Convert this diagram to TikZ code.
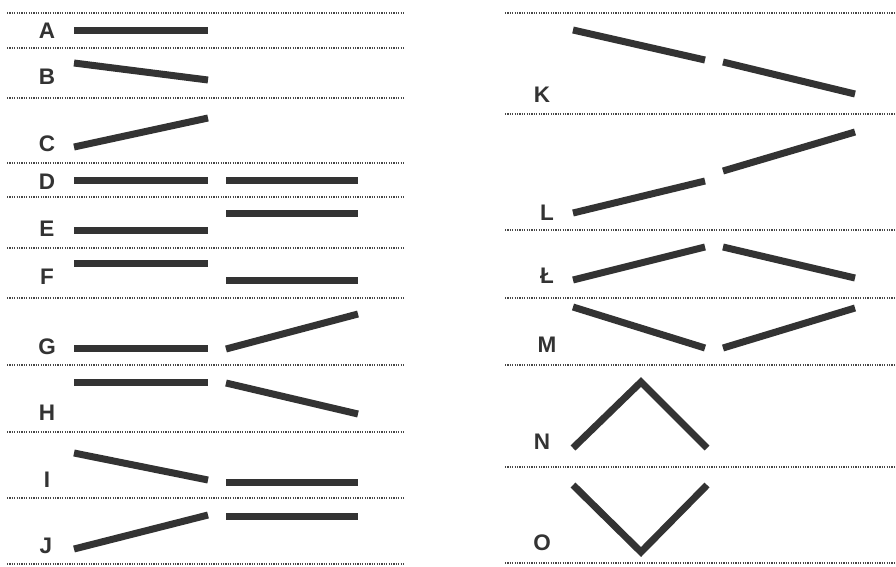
\documentclass[tikz,border=0pt]{standalone}
\usepackage{fontspec}
\setmainfont{Liberation Sans}
\begin{document}
\begin{tikzpicture}[x=1pt,y=-1pt,
  bar/.style={line width=7pt,draw=ink,line cap=butt,line join=miter},
  sep/.style={line width=1.3pt,draw=ink!90,dash pattern=on 1.2pt off 1.2pt},
  lab/.style={font=\fontsize{22.5}{22.5}\selectfont\bfseries,text=ink,inner sep=0pt}]
\definecolor{ink}{HTML}{333333}
\useasboundingbox[fill=white] (0,0) rectangle (896,566);
% left separators
\foreach \y in {13,48,98,163,197,248,298,365,432,498,564}
  \draw[sep] (7,\y) -- (405,\y);
% right separators
\foreach \y in {13,114,230,298,365,467,563}
  \draw[sep] (505,\y) -- (896,\y);
% left labels
\node[lab] (A) at (47,31) {A};
\node[lab] (B) at (47,77) {B};
\node[lab] (C) at (47,144) {C};
\node[lab] (D) at (47,182) {D};
\node[lab] (E) at (47,229) {E};
\node[lab] (F) at (47,277) {F};
\node[lab] (G) at (47,347) {G};
\node[lab] (H) at (47,413) {H};
\node[lab] (I) at (47,480) {I};
\node[lab] (J) at (46,546) {J};
% right labels
\node[lab] (K) at (542,95) {K};
\node[lab] (L) at (547,213) {L};
\node[lab] (Lstroke) at (547,276) {Ł};
\node[lab] (M) at (547,345) {M};
\node[lab] (N) at (542,442) {N};
\node[lab] (O) at (542,543) {O};
% left bars
\draw[bar] (74,30) -- (208,30);
\draw[bar] (74,63) -- (208,80);
\draw[bar] (74,147) -- (208,118);
\draw[bar] (74,180) -- (208,180);
\draw[bar] (226,180) -- (358,180);
\draw[bar] (74,230) -- (208,230);
\draw[bar] (226,213) -- (358,213);
\draw[bar] (74,263) -- (208,263);
\draw[bar] (226,280) -- (358,280);
\draw[bar] (74,348) -- (208,348);
\draw[bar] (226,349) -- (358,314);
\draw[bar] (74,382) -- (208,382);
\draw[bar] (226,383) -- (358,414);
\draw[bar] (74,453) -- (208,480);
\draw[bar] (226,482) -- (358,482);
\draw[bar] (74,549) -- (208,515);
\draw[bar] (226,516) -- (358,516);
% right bars
\draw[bar] (573,30) -- (705,60);
\draw[bar] (723,62) -- (855,94);
\draw[bar] (573,213) -- (705,181);
\draw[bar] (723,171) -- (855,132);
\draw[bar] (573,280) -- (705,247);
\draw[bar] (723,247) -- (855,278);
\draw[bar] (573,307) -- (705,348);
\draw[bar] (723,348) -- (855,308);
\draw[bar] (573,448) -- (641,382) -- (707,448);
\draw[bar] (573,485) -- (641,552) -- (707,485);
\end{tikzpicture}
\end{document}
